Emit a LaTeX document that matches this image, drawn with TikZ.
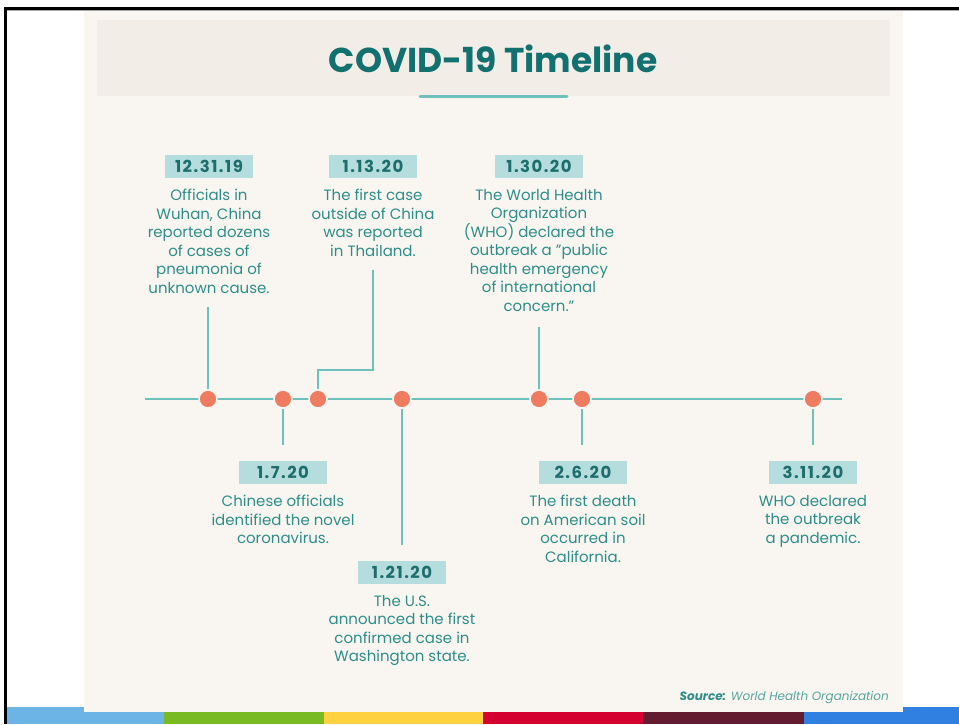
\documentclass[tikz,border=0pt]{standalone}
\usepackage{fontspec}
\setmainfont{Poppins}
\begin{document}
\definecolor{cardbg}{HTML}{F9F6F1}
\definecolor{bandbg}{HTML}{F2EEE7}
\definecolor{titleteal}{HTML}{12706E}
\definecolor{datebg}{HTML}{B5DDDD}
\definecolor{datefg}{HTML}{1D6E6C}
\definecolor{bodyfg}{HTML}{2E8D89}
\definecolor{linecol}{HTML}{6CC2BA}
\definecolor{dotcol}{HTML}{EF7B60}
\definecolor{barA}{HTML}{6CB4E6}
\definecolor{barB}{HTML}{77BA22}
\definecolor{barC}{HTML}{FDD13F}
\definecolor{barD}{HTML}{D40030}
\definecolor{barE}{HTML}{631B30}
\definecolor{barF}{HTML}{2F80E0}
\begin{tikzpicture}[x=1pt,y=-1pt,
  datebox/.style={fill=datebg,text=datefg,
    font=\fontsize{16.5}{16.5}\selectfont\bfseries\addfontfeature{LetterSpace=9},
    minimum width=88pt,minimum height=23pt,inner sep=0pt},
  desc/.style={text=bodyfg,font=\fontsize{15}{18.5}\selectfont,align=center,
    anchor=north,inner sep=0pt},
  event/.style={circle,fill=dotcol,draw=cardbg,line width=1.5pt,minimum size=18pt,inner sep=0pt},
  stem/.style={draw=linecol,line width=2.6pt},
]
\useasboundingbox (0,0) rectangle (959,724);
\fill[white] (0,0) rectangle (959,724);

% colour strip along the bottom
\fill[barA] (5,707) rectangle (164,724);
\fill[barB] (164,707) rectangle (324,724);
\fill[barC] (324,707) rectangle (483,724);
\fill[barD] (483,707) rectangle (643,724);
\fill[barE] (643,707) rectangle (804,724);
\fill[barF] (804,707) rectangle (959,724);

% frame edges
\fill[black] (4,7) rectangle (959,10);
\fill[gray!70] (7,10) rectangle (959,11);
\fill[black] (4,7) rectangle (7,724);

% card and title band
\fill[cardbg] (84,11) rectangle (903,712);
\fill[bandbg] (97,20) rectangle (890,96);
\node[text=titleteal,font=\fontsize{34.5}{34.5}\selectfont\bfseries] (title) at (493,59) {COVID-19 Timeline};
\draw[linecol,line width=3pt,line cap=round] (420,96) -- (567,96);

% main axis
\coordinate (axL) at (145,399);
\coordinate (axR) at (842,399);
\draw[stem] (axL) -- (axR);

% event dots
\node[event] (e1) at (208,399) {};
\node[event] (e2) at (283,399) {};
\node[event] (e3) at (318,399) {};
\node[event] (e4) at (402,399) {};
\node[event] (e5) at (539,399) {};
\node[event] (e6) at (582,399) {};
\node[event] (e7) at (813,399) {};

% stem ends
\coordinate (s1) at (208,307);
\coordinate (s2) at (283,445);
\coordinate (s3a) at (318,370);
\coordinate (s3b) at (373,370);
\coordinate (s3) at (373,270);
\coordinate (s4) at (402,545);
\coordinate (s5) at (539,327);
\coordinate (s6) at (582,445);
\coordinate (s7) at (813,445);

\draw[stem] (e1.north) -- (s1);
\draw[stem] (e2.south) -- (s2);
\draw[stem] (e3.north) -- (s3a) -- (s3b) -- (s3);
\draw[stem] (e4.south) -- (s4);
\draw[stem] (e5.north) -- (s5);
\draw[stem] (e6.south) -- (s6);
\draw[stem] (e7.south) -- (s7);

% dates and descriptions
\node[datebox] (d1) at (209,166) {12.31.19};
\node[desc] (t1) at (209,189) {Officials in\\Wuhan, China\\reported dozens\\of cases of\\pneumonia of\\unknown cause.};

\node[datebox] (d3) at (373,166) {1.13.20};
\node[desc] (t3) at (373,189) {The first case\\outside of China\\was reported\\in Thailand.};

\node[datebox] (d5) at (539,166) {1.30.20};
\node[desc] (t5) at (539,189) {The World Health\\Organization\\(WHO) declared the\\outbreak a \symbol{34}public\\health emergency\\of international\\concern.”};

\node[datebox] (d2) at (283,472) {1.7.20};
\node[desc] (t2) at (283,495) {Chinese officials\\identified the novel\\coronavirus.};

\node[datebox] (d6) at (583,472) {2.6.20};
\node[desc] (t6) at (583,495) {The first death\\on American soil\\occurred in\\California.};

\node[datebox] (d7) at (813,472) {3.11.20};
\node[desc] (t7) at (813,495) {WHO declared\\the outbreak\\a pandemic.};

\node[datebox] (d4) at (402,572) {1.21.20};
\node[desc] (t4) at (402,595) {The U.S.\\announced the first\\confirmed case in\\Washington state.};

% source line
\node[anchor=east,inner sep=0pt,font=\fontsize{12}{12}\selectfont\itshape] (src) at (889,698)
  {\textcolor{bodyfg}{\bfseries Source:} \textcolor{bodyfg!80}{World Health Organization}};
\end{tikzpicture}
\end{document}
